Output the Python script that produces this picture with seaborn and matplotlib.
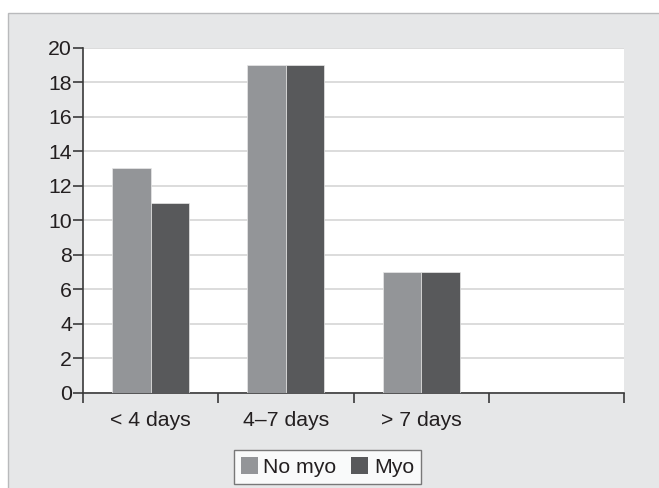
import matplotlib
matplotlib.use("Agg")
import matplotlib.pyplot as plt
import seaborn as sns
import pandas as pd
from matplotlib.patches import Rectangle
from matplotlib.ticker import FixedLocator

categories = ["< 4 days", "4\u20137 days", "> 7 days", ""]
groups = ["No myo", "Myo"]
no_myo = [13, 19, 7]
myo = [11, 19, 7]
y_ticks = list(range(0, 21, 2))

sns.set_theme(style="white")
plt.rcParams["font.family"] = ["Liberation Sans", "DejaVu Sans"]

rows = []
for cat, a, b in zip(categories[:3], no_myo, myo):
    rows.append({"period": cat, "group": groups[0], "value": a})
    rows.append({"period": cat, "group": groups[1], "value": b})
df = pd.DataFrame(rows)

W, H = 659, 488
fig = plt.figure(figsize=(W / 100, H / 100), dpi=100)
fig.patch.set_facecolor("white")

# grey panel with a thin frame behind the chart
panel = Rectangle((8 / W, -0.01), 1.0, 1 - 13 / H + 0.01, transform=fig.transFigure,
                  facecolor="#e6e7e8", edgecolor="#b9babc", linewidth=1.0, zorder=-10)
fig.patches.append(panel)

ax = fig.add_axes([83 / W, 1 - 392.5 / H, (624 - 83) / W, (392.5 - 47.7) / H])
ax.set_facecolor("white")

palette = {"No myo": "#939598", "Myo": "#58595b"}
sns.barplot(data=df, x="period", y="value", hue="group", order=categories,
            hue_order=groups, palette=palette, width=0.57, gap=0, saturation=1,
            edgecolor="#e8e8e8", linewidth=0.5, ax=ax, zorder=3)

ax.set_xlim(-0.5, 3.5)
ax.set_ylim(0, 20)
ax.set_yticks(y_ticks)
ax.yaxis.grid(True, color="#d6d6d6", linewidth=1.2, zorder=0)
ax.set_axisbelow(True)
ax.set_xlabel("")
ax.set_ylabel("")

for side in ["top", "right"]:
    ax.spines[side].set_visible(False)
for side in ["left", "bottom"]:
    ax.spines[side].set_color("#3a3a3a")
    ax.spines[side].set_linewidth(1.2)

fs = 15.3
ax.tick_params(axis="y", which="major", direction="out", length=7, width=1.2,
               color="#3a3a3a", labelsize=fs, labelcolor="#231f20", pad=1, left=True)
ax.tick_params(axis="x", which="major", length=0, labelsize=fs,
               labelcolor="#231f20", pad=13)
ax.xaxis.set_minor_locator(FixedLocator([-0.5, 0.5, 1.5, 2.5, 3.5]))
ax.tick_params(axis="x", which="minor", direction="out", length=7, width=1.2,
               color="#3a3a3a", bottom=True)

ax.legend_.remove()
handles = [Rectangle((0, 0), 1, 1, facecolor=palette[g], edgecolor="none") for g in groups]
leg = fig.legend(handles, groups, loc="center", bbox_to_anchor=(0.497, 1 - 467 / H),
                 ncol=2, frameon=True, fancybox=False, fontsize=fs,
                 handlelength=0.8, handleheight=0.8, handletextpad=0.25,
                 columnspacing=0.7, borderpad=0.35, borderaxespad=0)
leg.get_frame().set_edgecolor("#5a5a5a")
leg.get_frame().set_linewidth(1.0)
leg.get_frame().set_facecolor("white")
for t in leg.get_texts():
    t.set_color("#231f20")

fig.savefig("out.png", dpi=100)
